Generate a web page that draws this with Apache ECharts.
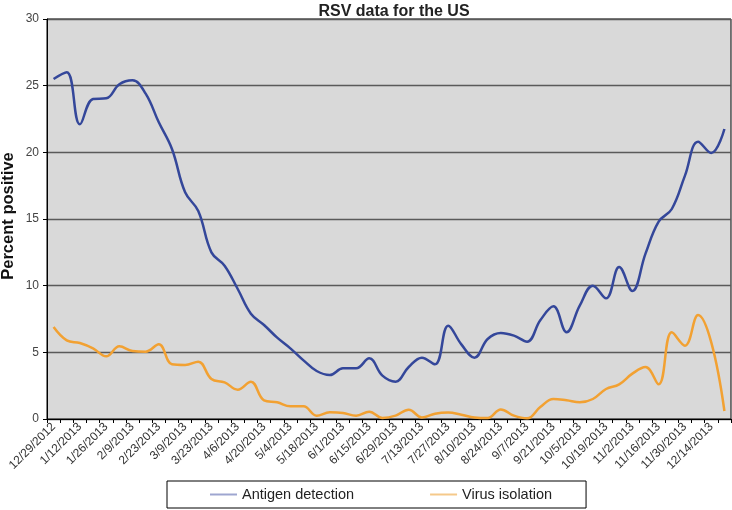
<!DOCTYPE html>
<html>
<head>
<meta charset="utf-8">
<script src="https://cdn.jsdelivr.net/npm/echarts@6/dist/echarts.min.js"></script>
<style>html,body{margin:0;padding:0;background:#fff}#c{width:732px;height:510px}</style>
</head>
<body>
<div id="c"></div>
<script>
var categories = ['12/29/2012','1/5/2013','1/12/2013','1/19/2013','1/26/2013','2/2/2013','2/9/2013','2/16/2013','2/23/2013','3/2/2013','3/9/2013','3/16/2013','3/23/2013','3/30/2013','4/6/2013','4/13/2013','4/20/2013','4/27/2013','5/4/2013','5/11/2013','5/18/2013','5/25/2013','6/1/2013','6/8/2013','6/15/2013','6/22/2013','6/29/2013','7/6/2013','7/13/2013','7/20/2013','7/27/2013','8/3/2013','8/10/2013','8/17/2013','8/24/2013','8/31/2013','9/7/2013','9/14/2013','9/21/2013','9/28/2013','10/5/2013','10/12/2013','10/19/2013','10/26/2013','11/2/2013','11/9/2013','11/16/2013','11/23/2013','11/30/2013','12/7/2013','12/14/2013','12/21/2013'];
var antigen = [25.5,26.0,22.1,24.0,24.05,25.1,25.4,24.4,22.25,20.25,17.0,15.6,12.5,11.5,9.75,7.9,7.05,6.1,5.3,4.4,3.6,3.3,3.8,3.8,4.55,3.25,2.8,3.9,4.6,4.1,7.0,5.6,4.6,6.0,6.45,6.25,5.8,7.4,8.45,6.5,8.5,10.0,9.05,11.4,9.6,12.4,14.8,15.75,18.25,20.8,19.95,21.75];
var virus = [6.9,5.9,5.7,5.3,4.7,5.45,5.1,5.05,5.6,4.1,4.05,4.3,3.0,2.75,2.2,2.8,1.4,1.25,0.95,0.95,0.25,0.5,0.45,0.25,0.55,0.08,0.25,0.7,0.12,0.4,0.48,0.32,0.12,0.08,0.72,0.25,0.05,0.9,1.5,1.4,1.25,1.5,2.25,2.6,3.4,3.9,2.6,6.5,5.5,7.8,5.75,0.6];
var yTicks = [0,5,10,15,20,25,30];
var yName = 'Percent positive';

var chart = echarts.init(document.getElementById('c'), null, {renderer:'canvas'});
chart.setOption({
  animation: false,
  textStyle: {fontFamily: 'Liberation Sans, Arial, sans-serif'},
  title: {
    text: 'RSV data for the US', left: 389, textAlign: 'center', top: -1,
    textStyle: {fontSize: 16, fontWeight: 'bold', color: '#222', fontFamily: 'Liberation Sans, Arial, sans-serif'}
  },
  graphic: [{
    type: 'text', x: 8, y: 216, rotation: Math.PI / 2,
    style: {text: yName, fontSize: 16.5, fontWeight: 'bold', fill: '#111', fontFamily: 'Liberation Sans, Arial, sans-serif', align: 'center', verticalAlign: 'middle'}
  }],
  grid: {left: 47, right: 1, top: 19, bottom: 91, outerBoundsMode: 'none', containLabel: false, show: true, backgroundColor: '#d9d9d9', borderColor: '#000', borderWidth: 1},
  legend: {
    left: 167, top: 481, width: 418,
    data: [{name: 'Antigen detection', itemStyle: {color: '#9ea6d0'}}, {name: 'Virus isolation', itemStyle: {color: '#f5c98a'}}],
    icon: 'rect', itemWidth: 27, itemHeight: 2, itemGap: 76,
    padding: [6, 34, 6, 43],
    borderColor: '#000', borderWidth: 1,
    textStyle: {fontSize: 14.5, color: '#222'}
  },
  xAxis: {
    type: 'category', data: categories, boundaryGap: true,
    axisLine: {lineStyle: {color: '#000', width: 1}},
    axisTick: {show: true, interval: 0, length: 4, lineStyle: {color: '#000'}},
    axisLabel: {interval: 1, rotate: 45, fontSize: 12, color: '#333', margin: 6}
  },
  yAxis: {
    type: 'value', min: 0, max: 30, interval: 5,
    axisLine: {show: true, lineStyle: {color: '#000', width: 1}},
    axisTick: {show: true, length: 4, lineStyle: {color: '#000'}},
    axisLabel: {fontSize: 12, color: '#444', margin: 8, formatter: function(v){ return yTicks.indexOf(v) >= 0 ? String(v) : ''; }},
    splitLine: {show: true, lineStyle: {color: '#5a5a5a', width: 1.3}}
  },
  series: [
    {name: 'Antigen detection', type: 'line', data: antigen, smooth: 0.4, symbol: 'none', lineStyle: {color: '#34479a', width: 2.5}, itemStyle: {color: '#34479a'}},
    {name: 'Virus isolation', type: 'line', data: virus, smooth: 0.4, symbol: 'none', lineStyle: {color: '#f2a132', width: 2.5}, itemStyle: {color: '#f2a132'}}
  ]
});
</script>
</body>
</html>
